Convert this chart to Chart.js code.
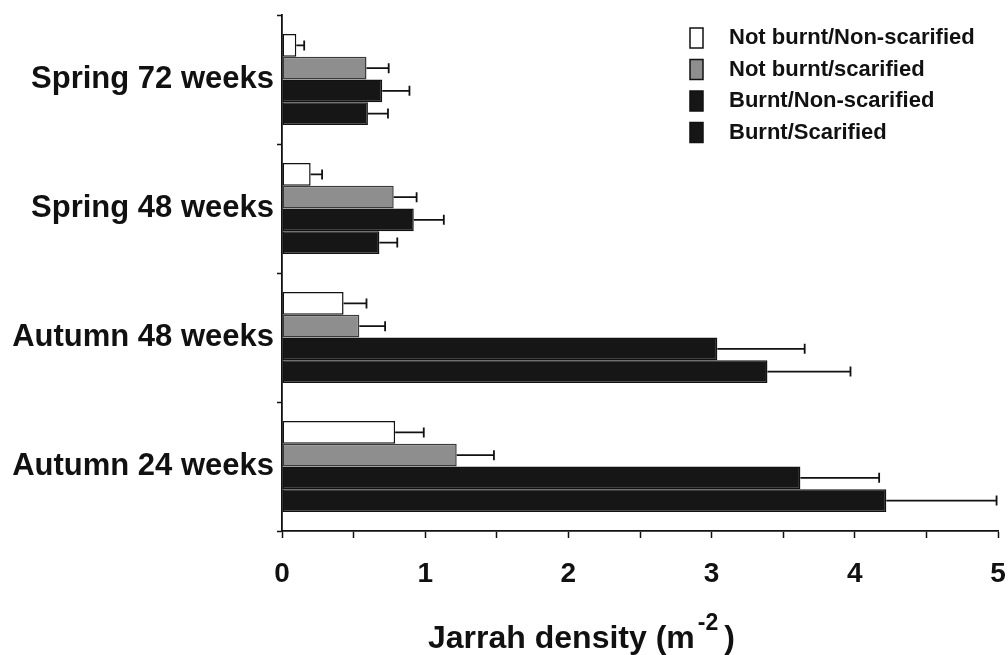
<!DOCTYPE html>
<html>
<head>
<meta charset="utf-8">
<script src="https://cdn.jsdelivr.net/npm/chart.js@4.4.1/dist/chart.umd.min.js"></script>
<style>
  html, body { margin: 0; padding: 0; background: #fff; }
  #wrap { width: 1008px; height: 655px; }
</style>
</head>
<body>
<div id="wrap"><canvas id="densidadChart" width="1008" height="655"></canvas></div>
<script>
// datos
const categorias = ['Spring 72 weeks', 'Spring 48 weeks', 'Autumn 48 weeks', 'Autumn 24 weeks'];
const series = ['Not burnt/Non-scarified', 'Not burnt/scarified', 'Burnt/Non-scarified', 'Burnt/Scarified'];

const noQuemadoNoEscarificado = [0.10, 0.20, 0.43, 0.79];
const noQuemadoEscarificado   = [0.59, 0.78, 0.54, 1.22];
const quemadoNoEscarificado   = [0.70, 0.92, 3.04, 3.62];
const quemadoEscarificado     = [0.60, 0.68, 3.39, 4.22];

const errNoQuemadoNoEsc = [0.055, 0.08, 0.16, 0.20];
const errNoQuemadoEsc   = [0.155, 0.16, 0.18, 0.26];
const errQuemadoNoEsc   = [0.19, 0.21, 0.61, 0.55];
const errQuemadoEsc     = [0.14, 0.125, 0.58, 0.77];

const ticksX = [0, 1, 2, 3, 4, 5];

const FUENTE = "'Liberation Sans', Arial, Helvetica, sans-serif";
const colores = ['#ffffff', '#8e8e8e', '#161616', '#161616'];
const bordes = ['#111111', '#3a3a3a', '#111111', '#111111'];

const valores = [noQuemadoNoEscarificado, noQuemadoEscarificado, quemadoNoEscarificado, quemadoEscarificado];
const errores = [errNoQuemadoNoEsc, errNoQuemadoEsc, errQuemadoNoEsc, errQuemadoEsc];

// barras de error (solo lado positivo, con tope)
const barrasError = {
    id: 'barrasError',
    afterDatasetsDraw(chart) {
        const ctx = chart.ctx;
        const x = chart.scales.x;
        ctx.save();
        ctx.strokeStyle = '#111';
        ctx.lineWidth = 1.8;
        chart.data.datasets.forEach((ds, i) => {
            const meta = chart.getDatasetMeta(i);
            meta.data.forEach((bar, j) => {
                const fin = x.getPixelForValue(ds.data[j] + errores[i][j]);
                ctx.beginPath();
                ctx.moveTo(bar.x, bar.y);
                ctx.lineTo(fin, bar.y);
                ctx.moveTo(fin, bar.y - 5);
                ctx.lineTo(fin, bar.y + 5);
                ctx.stroke();
            });
        });
        ctx.restore();
    }
};

// leyenda y titulo del eje
const extras = {
    id: 'extras',
    afterDraw(chart) {
        const ctx = chart.ctx;
        ctx.save();
        chart.data.datasets.forEach((ds, i) => {
            const yc = 38 + i * 31.5;
            ctx.fillStyle = ds.backgroundColor;
            ctx.fillRect(690, yc - 10, 13, 20);
            ctx.strokeStyle = '#111';
            ctx.lineWidth = 1.5;
            ctx.strokeRect(690, yc - 10, 13, 20);
            ctx.fillStyle = '#111';
            ctx.font = 'bold 22px ' + FUENTE;
            ctx.textBaseline = 'middle';
            ctx.textAlign = 'left';
            ctx.fillText(ds.label, 729, yc);
        });

        ctx.fillStyle = '#111';
        ctx.textBaseline = 'alphabetic';
        ctx.font = 'bold 32px ' + FUENTE;
        const base = 'Jarrah density (m';
        let xt = 428;
        ctx.fillText(base, xt, 648);
        xt += ctx.measureText(base).width + 3;
        ctx.font = 'bold 23px ' + FUENTE;
        ctx.fillText('-2', xt, 630);
        xt += ctx.measureText('-2').width + 6;
        ctx.font = 'bold 32px ' + FUENTE;
        ctx.fillText(')', xt, 648);
        ctx.restore();
    }
};

const ctx = document.getElementById('densidadChart').getContext('2d');

new Chart(ctx, {
    type: 'bar',
    data: {
        labels: categorias,
        datasets: series.map((nombre, i) => ({
            label: nombre,
            data: valores[i],
            backgroundColor: colores[i],
            borderColor: bordes[i],
            borderWidth: 1.5,
            borderSkipped: false
        }))
    },
    options: {
        indexAxis: 'y',
        responsive: false,
        animation: false,
        layout: { padding: { top: 15, right: 10, left: 0, bottom: 0 } },
        datasets: {
            bar: { categoryPercentage: 0.705, barPercentage: 1.0 }
        },
        plugins: {
            legend: { display: false },
            tooltip: { enabled: false }
        },
        scales: {
            x: {
                type: 'linear',
                min: 0,
                max: 5,
                afterFit(scale) {
                    scale.height = 124;
                    scale.paddingLeft = 0;
                    scale.paddingRight = 0;
                },
                afterBuildTicks(scale) {
                    const t = [];
                    for (let v = 0; v <= 5; v += 0.5) t.push({ value: v });
                    scale.ticks = t;
                },
                ticks: {
                    autoSkip: false,
                    maxRotation: 0,
                    padding: 19,
                    color: '#111',
                    font: { family: FUENTE, size: 28, weight: 'bold' },
                    callback: (v) => ticksX.includes(v) ? String(v) : ''
                },
                grid: {
                    drawOnChartArea: false,
                    drawTicks: true,
                    tickLength: 7,
                    tickColor: '#111',
                    tickWidth: 1.5
                },
                border: { display: true, color: '#111', width: 1.8 }
            },
            y: {
                afterFit(scale) {
                    scale.width = 282;
                    scale.paddingTop = 0;
                    scale.paddingBottom = 0;
                },
                ticks: {
                    padding: 3,
                    color: '#111',
                    font: { family: FUENTE, size: 31, weight: 'bold' }
                },
                grid: {
                    offset: true,
                    drawOnChartArea: false,
                    tickLength: 5,
                    tickColor: '#111',
                    tickWidth: 1.5
                },
                border: { display: true, color: '#111', width: 1.8 }
            }
        }
    },
    plugins: [barrasError, extras]
});
</script>
</body>
</html>
